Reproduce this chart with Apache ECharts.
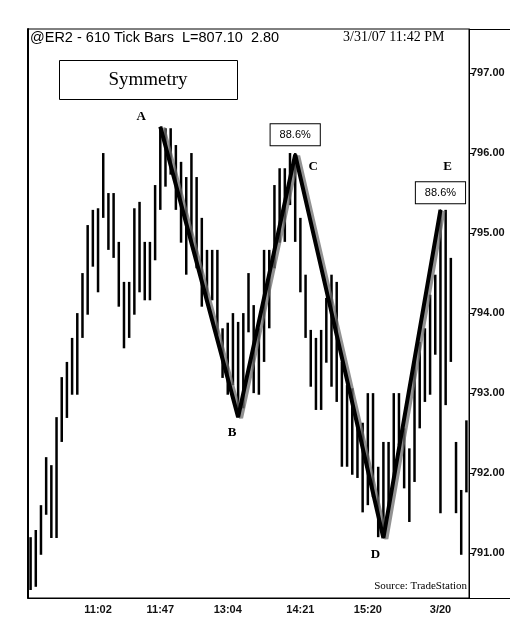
<!DOCTYPE html>
<html lang="en">
<head>
  <meta charset="UTF-8">
  <script type="text/javascript" src="https://cdn.jsdelivr.net/npm/echarts@6/dist/echarts.min.js"></script>
  <title>Symmetry</title>
  <style type="text/css">
    * {
      margin: 0;
      padding: 0;
    }

    html, body {
      width: 100%;
      height: 100%;
      background-color: #fff;
    }

    #chart {
      width: 523px;
      height: 631px;
    }
  </style>
</head>

<body>
<div id="chart"></div>
</body>
<script type="text/javascript">
  // tick bars, high / low
  var highs = [791.20, 791.29, 791.60, 792.20, 792.10, 792.70, 793.20, 793.39, 793.69, 794.00,
    794.50, 795.10, 795.29, 795.31, 796.00, 795.50, 795.50, 794.89, 794.39, 794.39,
    795.31, 795.39, 794.89, 794.89, 795.60, 796.31, 796.31, 796.31, 796.10, 795.89,
    795.70, 796.00, 795.70, 795.19, 794.79, 794.79, 794.79, 793.81, 793.88, 794.00,
    793.89, 794.00, 794.50, 794.10, 793.81, 794.79, 794.79, 795.60, 795.81, 795.81,
    796.00, 796.00, 795.19, 794.48, 793.79, 793.69, 793.79, 794.19, 794.48, 794.39,
    793.39, 793.10, 793.06, 792.64, 792.63, 793.00, 793.00, 792.08, 792.39, 792.39,
    793.00, 793.00, 792.56, 792.31, 793.39, 793.64, 793.81, 794.23, 794.48, 795.29,
    795.29, 794.69, 792.39, 791.79, 792.66];
  var lows = [790.54, 790.58, 790.98, 791.48, 791.19, 791.19, 792.39, 792.69, 792.98, 792.98,
    793.69, 793.98, 794.58, 794.26, 795.19, 794.79, 794.69, 794.08, 793.56, 793.69,
    793.98, 794.26, 794.16, 794.16, 794.66, 795.29, 795.58, 795.73, 795.29, 794.88,
    794.48, 794.89, 794.56, 794.08, 794.16, 794.16, 793.73, 793.19, 792.98, 793.10,
    792.70, 792.81, 793.76, 793.00, 792.98, 793.39, 793.81, 794.56, 794.88, 794.89,
    795.35, 794.89, 794.26, 793.69, 793.08, 792.79, 792.79, 793.38, 793.08, 792.89,
    792.08, 792.08, 791.98, 791.94, 791.51, 791.60, 791.70, 791.20, 791.23, 791.51,
    791.94, 792.35, 791.81, 791.39, 791.89, 792.56, 792.89, 792.98, 793.48, 791.50,
    792.85, 793.39, 791.50, 790.98, 791.76];

  // time labels on the x axis (bar index -> text)
  var timeIndex = [13, 25, 38, 52, 65, 79];
  var timeText = ['11:02', '11:47', '13:04', '14:21', '15:20', '3/20'];

  // pattern pivots
  var pivotName = ['A', 'B', 'C', 'D', 'E'];
  var pivotIndex = [25, 40, 51, 68, 79];
  var pivotPrice = [796.33, 792.70, 795.98, 791.19, 795.29];
  var pivotRatio = ['', '', '88.6%', '', '88.6%'];

  var priceTicks = [791, 792, 793, 794, 795, 796, 797];

  var categories = highs.map(function (h, i) {
    var k = timeIndex.indexOf(i);
    return k >= 0 ? timeText[k] : '';
  });

  var letterOffset = [[-19, -10], [-6, 16], [18, 12], [-8, 17], [7, -43]];
  var boxOffset = [[0, 0], [0, 0], [0, -20], [0, 0], [0, -17]];

  var zigzag = pivotName.map(function (n, i) {
    return {
      value: [pivotIndex[i], pivotPrice[i]],
      label: {show: true, formatter: n, offset: letterOffset[i]}
    };
  });

  var ratioData = [];
  pivotRatio.forEach(function (r, i) {
    if (r) {
      ratioData.push({
        value: [pivotIndex[i], pivotPrice[i]],
        label: {show: true, formatter: r, offset: boxOffset[i]}
      });
    }
  });

  var myChart = echarts.init(document.getElementById('chart'));
  var option = {
    backgroundColor: '#fff',
    animation: false,
    grid: {
      left: 28, right: 54, top: 29, bottom: 33,
      containLabel: false,
      outerBoundsMode: 'none',
      show: true, borderColor: '#000', borderWidth: 1
    },
    xAxis: {
      type: 'category',
      data: categories,
      boundaryGap: true,
      axisLine: {lineStyle: {color: '#000', width: 1}},
      axisTick: {
        alignWithLabel: true, length: 5,
        interval: function (i, v) { return v !== ''; },
        lineStyle: {color: '#000'}
      },
      axisLabel: {
        interval: function (i, v) { return v !== ''; },
        margin: 6,
        color: '#111', fontFamily: 'Arial', fontWeight: 'bold', fontSize: 11
      },
      splitLine: {show: false}
    },
    yAxis: [{
      type: 'value',
      position: 'right',
      min: 790.44,
      max: 797.55,
      axisLine: {show: true, lineStyle: {color: '#000', width: 1}},
      axisTick: {show: true, customValues: priceTicks, length: 4, lineStyle: {color: '#000'}},
      axisLabel: {
        customValues: priceTicks, margin: 2,
        formatter: function (v) { return v.toFixed(2); },
        color: '#111', fontFamily: 'Arial', fontWeight: 'bold', fontSize: 11
      },
      splitLine: {show: false}
    }, {
      type: 'value',
      position: 'left',
      min: 790.44,
      max: 797.55,
      axisLine: {show: true, lineStyle: {color: '#000', width: 2}},
      axisTick: {show: false},
      axisLabel: {show: false},
      splitLine: {show: false}
    }],
    graphic: [
      {
        type: 'text', left: 30, top: 30,
        style: {text: '@ER2 - 610 Tick Bars  L=807.10  2.80', font: '14.5px Arial', fill: '#000'}
      },
      {
        type: 'text', left: 343, top: 30,
        style: {text: '3/31/07 11:42 PM', font: '14px "Liberation Serif"', fill: '#000'}
      },
      {
        type: 'rect', left: 59, top: 60,
        shape: {width: 178, height: 39},
        style: {fill: '#fff', stroke: '#000', lineWidth: 1}
      },
      {
        type: 'text', x: 148, y: 80,
        style: {
          text: 'Symmetry', font: '19px "Liberation Serif"', fill: '#000',
          textAlign: 'center', textVerticalAlign: 'middle'
        }
      },
      {
        type: 'text', right: 56, top: 581,
        style: {text: 'Source: TradeStation', font: '11px "Liberation Serif"', fill: '#000'}
      },
      {
        type: 'line', shape: {x1: 469, y1: 29.5, x2: 510, y2: 29.5},
        style: {stroke: '#000', lineWidth: 1}
      },
      {
        type: 'line', shape: {x1: 469, y1: 598.5, x2: 510, y2: 598.5},
        style: {stroke: '#000', lineWidth: 1}
      }
    ],
    series: [
      {
        type: 'custom',
        name: 'bars',
        data: highs.map(function (h, i) { return [i, h, lows[i]]; }),
        encode: {x: 0, y: [1, 2]},
        renderItem: function (params, api) {
          var top = api.coord([api.value(0), api.value(1)]);
          var bot = api.coord([api.value(0), api.value(2)]);
          return {
            type: 'rect',
            shape: {x: top[0] - 1.25, y: top[1], width: 2.5, height: bot[1] - top[1]},
            style: {fill: '#000'}
          };
        },
        z: 2
      },
      {
        type: 'line',
        name: 'zigzag',
        data: zigzag,
        symbol: 'circle',
        symbolSize: 1,
        itemStyle: {color: '#000'},
        lineStyle: {
          color: '#000', width: 4,
          shadowColor: 'rgba(110,110,110,0.75)', shadowBlur: 0, shadowOffsetX: 3, shadowOffsetY: 1
        },
        label: {
          position: 'inside', color: '#000',
          fontFamily: '"Liberation Serif"', fontWeight: 'bold', fontSize: 13
        },
        z: 5
      },
      {
        type: 'line',
        name: 'ratio',
        data: ratioData,
        symbol: 'circle',
        symbolSize: 0,
        lineStyle: {width: 0, opacity: 0},
        label: {
          position: 'inside', color: '#000',
          fontFamily: 'Arial', fontSize: 11,
          backgroundColor: '#fff', borderColor: '#000', borderWidth: 1,
          padding: [5, 9, 5, 9]
        },
        z: 6
      }
    ]
  };
  myChart.setOption(option);
</script>
</html>
